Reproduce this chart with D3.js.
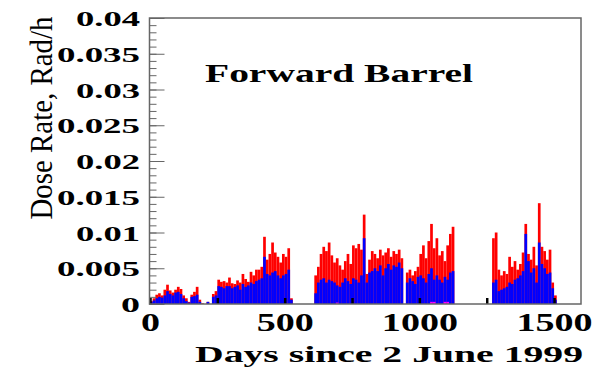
<!DOCTYPE html>
<html>
<head>
<meta charset="utf-8">
<script src="https://d3js.org/d3.v7.min.js"></script>
<style>
  body { margin: 0; background: #fff; }
  .lab { font-family: "Liberation Serif", "DejaVu Serif", serif; font-weight: bold; fill: #000; }
</style>
</head>
<body>
<div id="chart"></div>
<script>
// dose rate per 10-day bin, Rad/h
var binStart = d3.range(0, 1600, 10);

var totalRate = [
  .0004,.0008,.0013,.0015,.0012,.0020,.0027,.0019,.0016,.0020,
  .0024,.0021,.0012,.0008,.0003,.0013,.0017,.0024,.0006,.0001,
  0,.0003,0,.0014,.0018,.0034,.0031,.0032,.0030,.0037,
  .0029,.0028,.0033,.0030,.0042,.0035,.0031,.0045,.0040,.0048,
  .0048,.0052,.0094,.0062,.0070,.0086,.0072,.0066,.0058,.0070,
  .0066,.0078,.0008,0,0,0,0,0,0,0,
  0,.0040,.0052,.0070,.0080,.0074,.0086,.0068,.0058,.0064,
  .0054,.0048,.0060,.0070,.0056,.0082,.0078,.0084,.0076,.0125,
  .0042,.0062,.0074,.0070,.0064,.0076,.0068,.0072,.0078,.0066,
  .0074,.0070,.0076,.0064,0,.0044,.0048,.0040,.0046,.0052,
  .0070,.0082,.0064,.0088,.0112,.0078,.0092,.0068,.0074,.0060,
  .0082,.0098,.0108,0,0,0,0,0,0,0,
  0,0,0,0,0,0,0,.0092,.0100,.0048,
  .0040,.0046,.0042,.0066,.0052,.0060,.0048,.0056,.0072,.0112,
  .0070,.0062,.0080,.0054,.0141,.0080,.0074,.0062,.0076,.0030,
  .0012,0,0,0,0,0,0,0,0,0
];

var blueRate = [
  .0003,.0005,.0008,.0010,.0009,.0012,.0018,.0014,.0012,.0016,
  .0017,.0014,.0008,.0004,.0002,.0010,.0011,.0013,.0003,0,
  0,.0003,0,.0010,.0012,.0025,.0024,.0022,.0025,.0025,
  .0022,.0024,.0026,.0020,.0028,.0024,.0026,.0030,.0028,.0032,
  .0034,.0036,.0066,.0042,.0040,.0044,.0046,.0040,.0036,.0040,
  .0042,.0048,.0006,0,0,0,0,0,0,0,
  0,.0015,.0030,.0034,.0036,.0030,.0034,.0032,.0030,.0026,
  .0024,.0030,.0036,.0032,.0028,.0036,.0034,.0030,.0040,.0092,
  .0030,.0044,.0046,.0050,.0046,.0054,.0040,.0050,.0056,.0048,
  .0054,.0052,.0058,.0050,0,.0030,.0036,.0032,.0028,.0038,
  .0040,.0036,.0030,.0042,.0050,.0034,.0040,.0034,.0030,.0038,
  .0034,.0044,.0046,0,0,0,0,0,0,0,
  0,0,0,0,0,0,0,.0030,.0034,.0018,
  .0020,.0022,.0024,.0030,.0028,.0034,.0036,.0040,.0046,.0098,
  .0060,.0044,.0050,.0030,.0086,.0056,.0050,.0042,.0044,.0022,
  .0006,0,0,0,0,0,0,0,0,0
];

var magentaDays = [690, 1040, 1050, 1090, 1100];
var magentaRate = [.0002, .0003, .0003, .0003, .0003];

var xLabels = [0, 500, 1000, 1500];
var xMarks = [0, 250, 500, 750, 1000, 1250, 1500];
var yLabels = [0, .005, .01, .015, .02, .025, .03, .035, .04];

var W = 603, H = 368;
var mLeft = 150, mRight = 581, mTop = 18, mBottom = 304;
var binW = 10;

var svg = d3.select("#chart").append("svg")
    .attr("width", W)
    .attr("height", H);

var x = d3.scaleLinear().domain([0, 1600]).range([mLeft, mRight]);
var y = d3.scaleLinear().domain([0, 0.04]).range([mBottom, mTop]);

var bins = binStart.map(function(d, i) {
    return {day: d, total: totalRate[i], blue: blueRate[i]};
});

// red = total, blue drawn on top
svg.append("g").selectAll("rect")
    .data(bins.filter(d => d.total > 0))
    .enter().append("rect")
    .attr("x", d => x(d.day))
    .attr("width", d => x(d.day + binW) - x(d.day))
    .attr("y", d => y(d.total))
    .attr("height", d => y(0) - y(d.total))
    .attr("fill", "#ff0000");

svg.append("g").selectAll("rect")
    .data(bins.filter(d => d.blue > 0))
    .enter().append("rect")
    .attr("x", d => x(d.day))
    .attr("width", d => x(d.day + binW) - x(d.day))
    .attr("y", d => y(d.blue))
    .attr("height", d => y(0) - y(d.blue))
    .attr("fill", "#0000ff");

svg.append("g").selectAll("rect")
    .data(magentaDays)
    .enter().append("rect")
    .attr("x", d => x(d))
    .attr("width", d => x(d + binW) - x(d))
    .attr("y", (d, i) => y(magentaRate[i]))
    .attr("height", (d, i) => y(0) - y(magentaRate[i]))
    .attr("fill", "#ff00ff");

// y ticks: minor every 0.001, major every 0.005
svg.append("g")
    .attr("transform", "translate(" + (mLeft - 0.5) + ",0)")
    .call(d3.axisRight(y).tickValues(d3.range(0, 0.0405, 0.001)).tickSize(7).tickFormat(""))
    .call(g => g.select(".domain").remove())
    .selectAll("line").attr("stroke", "#666");

svg.append("g")
    .attr("transform", "translate(" + (mLeft - 0.5) + ",0)")
    .call(d3.axisRight(y).tickValues(yLabels).tickSize(15).tickFormat(""))
    .call(g => g.select(".domain").remove())
    .selectAll("line").attr("stroke", "#666");

// x ticks, short black marks
svg.append("g")
    .attr("transform", "translate(0," + mBottom + ")")
    .call(d3.axisTop(x).tickValues(xMarks).tickSize(6).tickFormat(""))
    .call(g => g.select(".domain").remove())
    .selectAll("line").attr("stroke", "#000").attr("stroke-width", 2.5);

// frame
svg.append("rect")
    .attr("x", mLeft - 0.5)
    .attr("y", mTop)
    .attr("width", mRight - mLeft + 0.5)
    .attr("height", mBottom - mTop)
    .attr("fill", "none")
    .attr("stroke", "#666")
    .attr("stroke-width", 1.5);

// tick labels (wide bold serif)
function labelWidth(s, digitW, dotW) {
    var n = 0;
    for (var c of s) n += (c === ".") ? dotW : digitW;
    return n;
}

var yFmt = d => d === 0 ? "0" : String(+d.toFixed(3));
var gy = svg.append("g")
    .attr("transform", "translate(" + (mLeft - 10) + ",0)")
    .call(d3.axisLeft(y).tickValues(yLabels).tickSize(0).tickPadding(0).tickFormat(yFmt));
gy.select(".domain").remove();
gy.selectAll("text")
    .attr("class", "lab")
    .attr("font-size", 21)
    .attr("dy", "0.36em")
    .attr("textLength", d => labelWidth(yFmt(d), 19, 7))
    .attr("lengthAdjust", "spacingAndGlyphs");

var gx = svg.append("g")
    .attr("transform", "translate(0," + mBottom + ")")
    .call(d3.axisBottom(x).tickValues(xLabels).tickSize(0).tickPadding(9).tickFormat(d3.format("d")));
gx.select(".domain").remove();
gx.selectAll("text")
    .attr("class", "lab")
    .attr("font-size", 26)
    .attr("textLength", d => String(d).length * 19)
    .attr("lengthAdjust", "spacingAndGlyphs");

// axis titles
svg.append("text")
    .attr("class", "lab")
    .attr("x", 195)
    .attr("y", 362)
    .attr("font-size", 24)
    .attr("textLength", 388)
    .attr("lengthAdjust", "spacingAndGlyphs")
    .text("Days since 2 June 1999");

svg.append("text")
    .attr("transform", "translate(52,118) rotate(-90)")
    .attr("text-anchor", "middle")
    .attr("font-family", "Liberation Serif, serif")
    .attr("font-size", 31)
    .attr("textLength", 203)
    .attr("lengthAdjust", "spacingAndGlyphs")
    .text("Dose Rate, Rad/h");

svg.append("text")
    .attr("class", "lab")
    .attr("x", 205)
    .attr("y", 82)
    .attr("font-size", 25)
    .attr("textLength", 268)
    .attr("lengthAdjust", "spacingAndGlyphs")
    .text("Forward Barrel");
</script>
</body>
</html>
